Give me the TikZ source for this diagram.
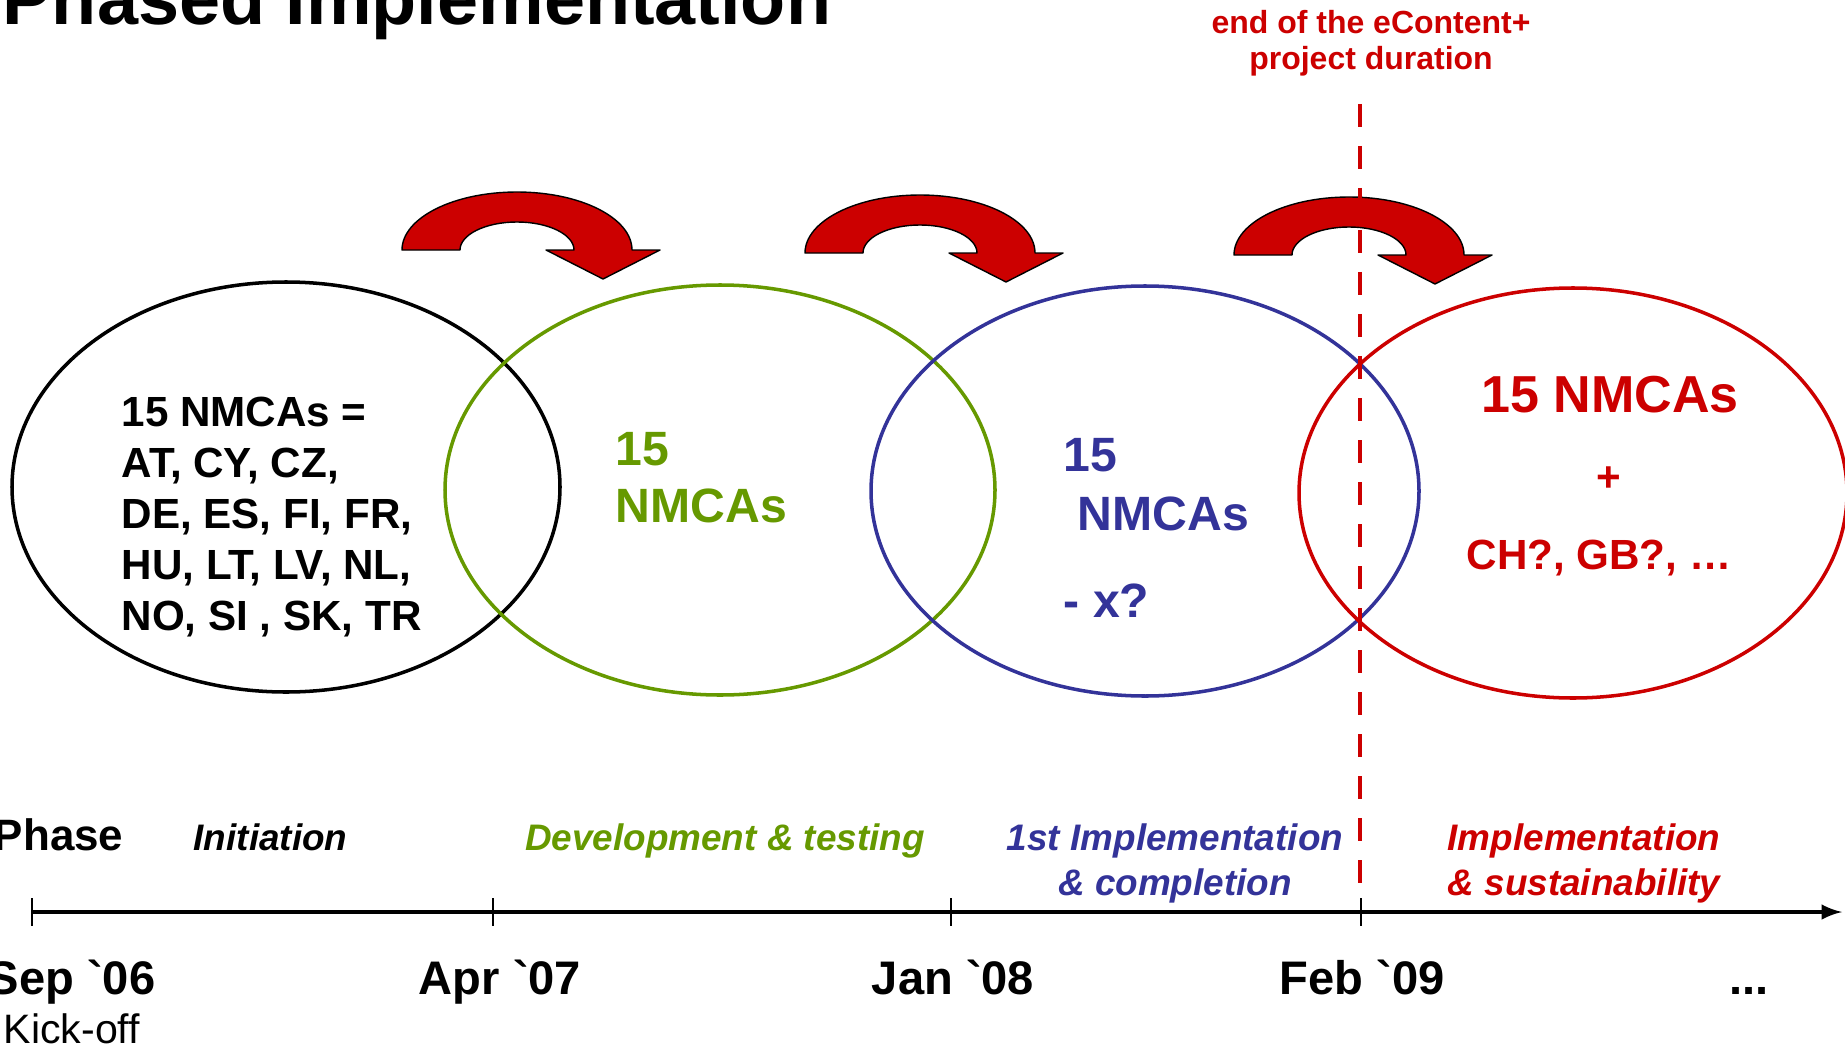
\documentclass[tikz,border=0pt]{standalone}
\usepackage{fontspec}
\newfontfamily\lsans{Liberation Sans}
\usepackage{tikz}
\usetikzlibrary{arrows}

\definecolor{ecred}{RGB}{204,0,0}
\definecolor{ecgreen}{RGB}{102,153,0}
\definecolor{ecblue}{RGB}{51,51,153}

\tikzset{
  lbl/.style={inner sep=0pt,font=\lsans\bfseries\fontsize{12}{14.5}\selectfont},
  big/.style={inner sep=0pt,font=\lsans\bfseries\fontsize{13.7}{16.2}\selectfont},
  phase/.style={inner sep=0pt,anchor=base,align=center,font=\lsans\bfseries\itshape\fontsize{10.5}{12.8}\selectfont},
  date/.style={inner sep=0pt,anchor=base,font=\lsans\bfseries\fontsize{13.4}{16}\selectfont},
  ring/.style={line width=1pt},
  turnarrow/.style={fill=ecred,draw=black,line width=0.4pt,line join=round},
}

\begin{document}
\begin{tikzpicture}
  \useasboundingbox (0,0) rectangle (18.45,-10.51);
  \node[inner sep=0pt,anchor=base west,font=\lsans\bfseries\fontsize{21}{25}\selectfont] (title) at (0.02,-0.25) {Phased Implementation};

  % the four phases
  \draw[ring,black] (2.86,-4.87) ellipse [x radius=2.74, y radius=2.05];
  \draw[ring,ecgreen] (7.20,-4.90) ellipse [x radius=2.75, y radius=2.05];
  \draw[ring,ecblue] (11.45,-4.91) ellipse [x radius=2.74, y radius=2.05];
  \draw[ring,ecred] (15.73,-4.93) ellipse [x radius=2.74, y radius=2.05];

  \foreach \dx/\dy in {0/0, 4.03/-0.03, 8.32/-0.05}
    \draw[turnarrow,shift={(\dx,\dy)}] (4.02,-2.50) arc[start angle=180,end angle=0,x radius=1.15,y radius=0.58]
      -- (6.60,-2.50) -- (6.03,-2.79) -- (5.46,-2.50) -- (5.74,-2.50)
      arc[start angle=0,end angle=180,x radius=0.57,y radius=0.28] -- cycle;

  % base of a multi-line node = its last line
  \node[lbl,anchor=base west,align=left] (nmcalist) at (1.21,-6.30) {15 NMCAs =\\AT, CY, CZ,\\DE, ES, FI, FR,\\HU, LT, LV, NL,\\NO, SI , SK, TR};
  \node[big,anchor=base west,align=left,ecgreen] (devcount) at (6.15,-5.22) {15\\NMCAs};
  \node[big,anchor=base west,align=left,ecblue] (impcount) at (10.63,-6.17) {15\\[0.6pt]\hspace*{0.14cm}NMCAs\\[8.5pt]- x?};
  \node[inner sep=0pt,anchor=base,ecred,font=\lsans\bfseries\fontsize{14.8}{17}\selectfont] (suscount) at (16.10,-4.12) {15 NMCAs};
  \node[lbl,anchor=base,ecred] (susplus) at (16.09,-4.91) {+};
  \node[lbl,anchor=base,ecred] (susnew) at (15.99,-5.69) {CH?, GB?, …};

  % end of project
  \node[inner sep=0pt,anchor=base,align=center,ecred,font=\lsans\bfseries\fontsize{9.1}{10.5}\selectfont] (endnote) at (13.71,-0.70) {end of the eContent+\\project duration};
  \coordinate (endtop) at (13.60,-1.04);
  \coordinate (endbot) at (13.60,-8.88);
  \draw[ecred,line width=1.3pt,dash pattern=on 0.23cm off 0.19cm] (endtop) -- (endbot);

  % timeline
  \node[inner sep=0pt,anchor=base east,font=\lsans\bfseries\fontsize{12.5}{15}\selectfont] (phase) at (1.24,-8.50) {Phase};
  \node[phase,anchor=base west] (ini) at (1.93,-8.50) {Initiation};
  \node[phase,ecgreen] (dev) at (7.25,-8.50) {Development \& testing};
  \node[phase,ecblue] (imp) at (11.75,-8.95) {1st Implementation\\\& completion};
  \node[phase,ecred] (sus) at (15.84,-8.95) {Implementation\\\& sustainability};

  \coordinate (tstart) at (0.32,-9.12);
  \coordinate (tend) at (18.42,-9.12);
  \draw[-latex,line width=1pt] (tstart) -- (tend);
  \foreach \x in {0.32,4.93,9.51,13.61} \draw[line width=0.6pt] (\x,-8.98) -- (\x,-9.26);

  \node[date,anchor=base east] (sep) at (1.56,-9.94) {Sep `06};
  \node[date] (apr) at (5.00,-9.94) {Apr `07};
  \node[date] (jan) at (9.53,-9.94) {Jan `08};
  \node[date] (feb) at (13.62,-9.94) {Feb `09};
  \node[date] (more) at (17.49,-9.94) {...};
  \node[inner sep=0pt,anchor=base west,font=\lsans\fontsize{11.7}{14}\selectfont] (kick) at (0.03,-10.43) {Kick-off};
\end{tikzpicture}
\end{document}
